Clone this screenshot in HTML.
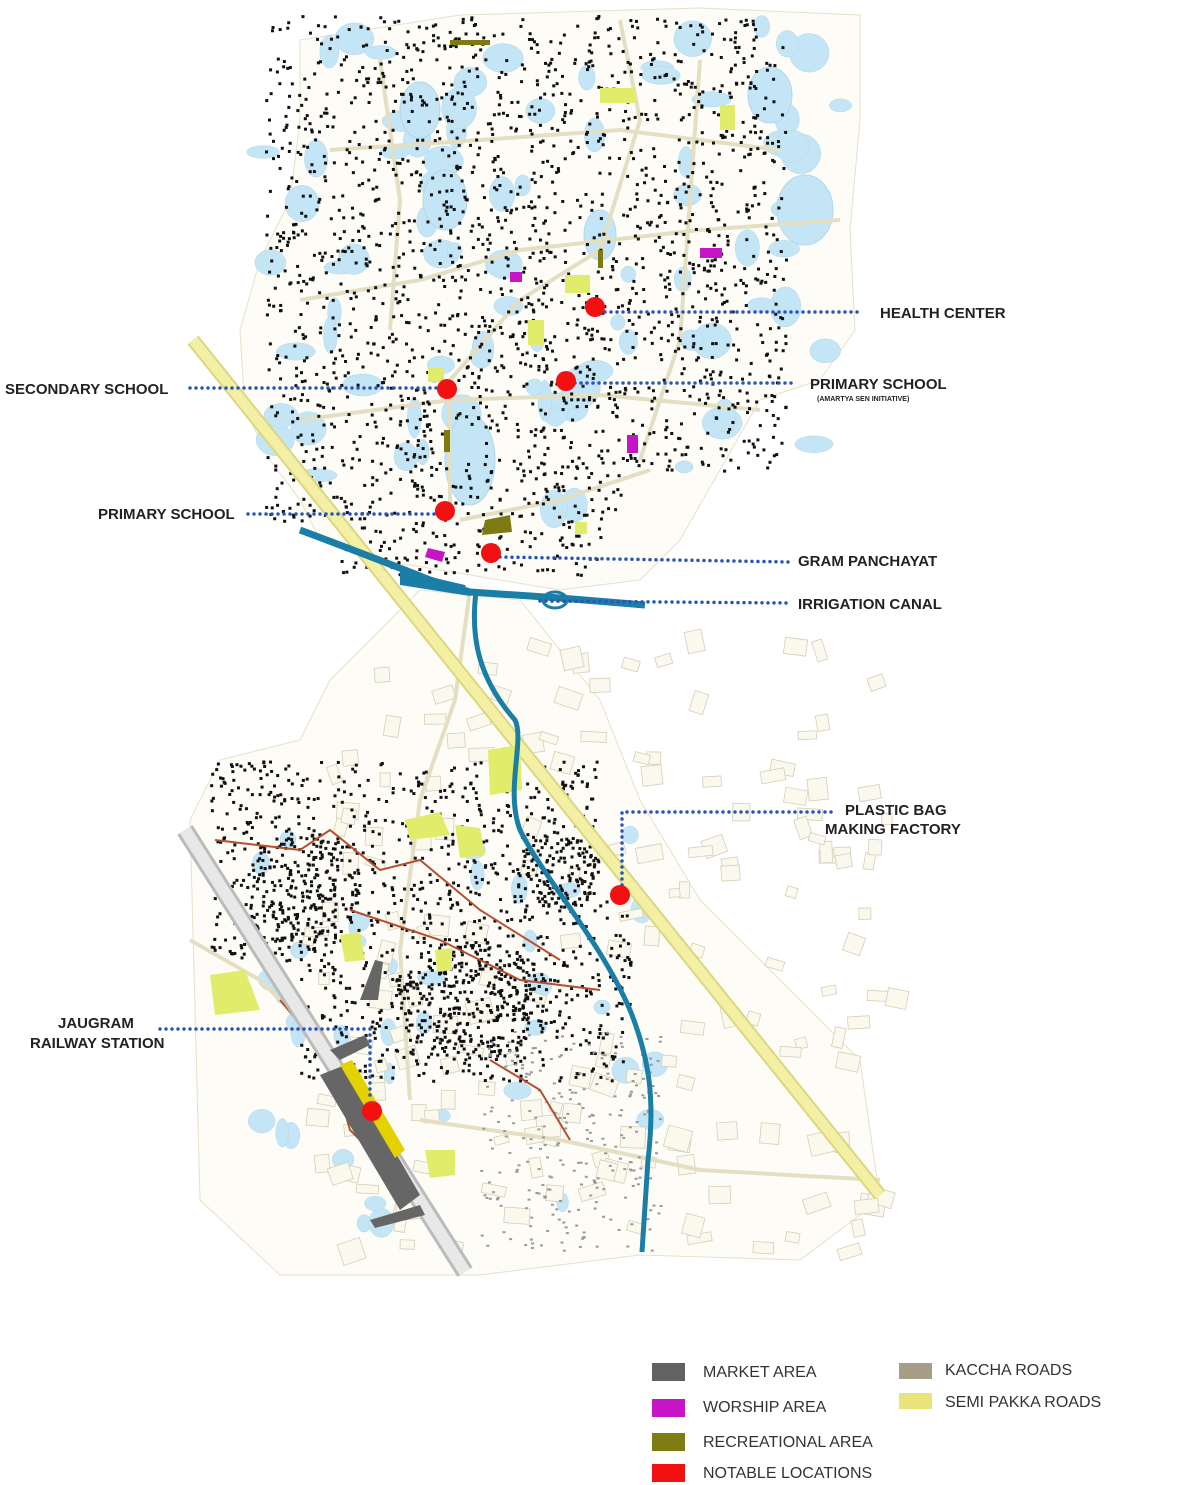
<!DOCTYPE html>
<html><head><meta charset="utf-8"><style>
html,body{margin:0;padding:0;background:#fff;}
svg{display:block}
text{font-family:"Liberation Sans",sans-serif;}
.lb{font-size:15px;font-weight:bold;fill:#222;}
.lg{font-size:16px;fill:#333;}
</style></head><body>
<svg id="s" width="1200" height="1485" viewBox="0 0 1200 1485" xmlns="http://www.w3.org/2000/svg">
<path d="M300,40 L460,15 L700,8 L860,15 L860,120 L850,230 L855,330 L820,380 L760,400 L720,470 L680,540 L640,580 L560,590 L470,575 L380,560 L320,540 L300,500 L270,460 L245,410 L240,330 L260,260 L290,200 L300,120 Z" fill="#fdfcf7" stroke="#e6e1c8"/>
<path d="M330,680 L420,590 L520,600 L600,700 L640,800 L700,900 L780,980 L860,1060 L880,1200 L800,1260 L640,1255 L480,1275 L280,1275 L200,1200 L190,820 L220,760 L300,740 Z" fill="#fdfcf7" stroke="#e6e1c8"/>
<g id="ponds"></g>
<g id="bld"></g>
<g fill="none" stroke="#e4dfc2" stroke-width="4">
<path d="M470,590 L455,700 L420,800 L400,950 L410,1100"/>
<path d="M300,420 L450,400 L600,395 L760,410"/>
<path d="M420,1120 L560,1140 L700,1170 L880,1180"/>
<path d="M450,520 L450,380 L520,300 L600,250 L640,120 L620,20"/>
<path d="M190,940 L260,980 L330,1050"/>
<path d="M300,300 L420,280 L520,250 L700,230 L840,220"/>
<path d="M330,150 L480,140 L620,130 L780,150"/>
<path d="M380,60 L400,200 L390,330"/>
<path d="M700,60 L690,200 L680,340 L640,460"/>
<path d="M460,520 L560,500 L650,470"/>
</g>
<g id="dots"></g>
<g fill="none" stroke="#b5502e" stroke-width="2">
<path d="M215,840 L300,850 L330,830 L380,870 L420,860 L480,910 L560,960"/>
<path d="M350,910 L440,940 L520,980 L600,990"/>
<path d="M490,1060 L540,1090 L570,1140"/>
<path d="M280,1000 L330,1060 L350,1130 L400,1180"/>
</g>
<path d="M185,830 L465,1272" stroke="#bbb" stroke-width="18" fill="none"/>
<path d="M185,830 L465,1272" stroke="#e8e8e8" stroke-width="12" fill="none"/>
<polygon points="320,1075 345,1065 420,1195 400,1210" fill="#666"/>
<polygon points="340,1065 352,1060 405,1150 395,1158" fill="#e3d100"/>
<polygon points="330,1050 365,1035 370,1045 340,1060" fill="#666"/>
<polygon points="360,1000 375,960 383,962 378,1000" fill="#666"/>
<polygon points="370,1220 420,1205 425,1215 375,1228" fill="#666"/>
<path d="M193,340 L880,1195" stroke="#dcd67e" stroke-width="14" fill="none"/>
<path d="M193,340 L880,1195" stroke="#f3f0a5" stroke-width="10" fill="none"/>
<g fill="#e0ec6a">
<rect x="600" y="88" width="35" height="15"/><rect x="720" y="105" width="15" height="25"/>
<rect x="565" y="275" width="25" height="18"/><rect x="528" y="320" width="16" height="25"/>
<rect x="428" y="368" width="16" height="14"/><rect x="575" y="522" width="12" height="12"/>
<polygon points="488,750 520,745 522,790 490,795"/><polygon points="405,820 440,812 450,835 410,840"/>
<polygon points="455,825 480,828 485,855 460,858"/><polygon points="340,935 360,932 365,960 345,962"/>
<polygon points="210,975 245,970 260,1010 215,1015"/><polygon points="425,1150 455,1150 455,1175 430,1178"/>
<polygon points="435,950 452,948 452,970 437,972"/>
</g>
<g fill="#7d7a12">
<polygon points="485,520 510,515 512,532 482,535"/><rect x="444" y="430" width="6" height="22"/>
<rect x="598" y="250" width="5" height="18"/><rect x="450" y="40" width="40" height="5"/>
</g>
<g fill="#c614c6">
<polygon points="428,548 445,552 442,562 425,557"/><rect x="700" y="248" width="22" height="10"/>
<rect x="627" y="435" width="11" height="18"/><rect x="510" y="272" width="12" height="10"/>
</g>
<path d="M300,530 Q380,560 430,580 L470,592 L560,598 L645,605" stroke="#1a7ea6" stroke-width="7" fill="none"/>
<path d="M400,570 L465,585 L470,596 L400,585 Z" fill="#1a7ea6"/>
<ellipse cx="555" cy="600" rx="12" ry="8" fill="none" stroke="#1a7ea6" stroke-width="3"/>
<path d="M476,592 C470,640 480,680 515,720 C525,740 505,790 520,830 C545,880 600,940 630,1010 C650,1060 655,1100 648,1160 L642,1252" stroke="#1a7ea6" stroke-width="5" fill="none"/>
<g stroke="#2a55b8" stroke-width="3.5" stroke-linecap="round" stroke-dasharray="0 6" fill="none">
<path d="M605,312 L862,312"/><path d="M575,383 L795,383"/><path d="M190,388 L437,388"/>
<path d="M248,514 L435,514"/><path d="M500,557 L790,562"/><path d="M540,601 L790,603"/>
<path d="M622,885 L622,812 L835,812"/><path d="M160,1029 L370,1029 L370,1100"/>
</g>
<g fill="#f21010">
<circle cx="595" cy="307" r="10"/><circle cx="566" cy="381" r="10"/><circle cx="447" cy="389" r="10"/>
<circle cx="445" cy="511" r="10"/><circle cx="491" cy="553" r="10"/><circle cx="620" cy="895" r="10"/>
<circle cx="372" cy="1111" r="10"/>
</g>
<text class="lb" x="880" y="318">HEALTH CENTER</text>
<text class="lb" x="810" y="389">PRIMARY SCHOOL</text>
<text x="817" y="401" style="font-size:7px;font-weight:bold;fill:#222">(AMARTYA SEN INITIATIVE)</text>
<text class="lb" x="5" y="394">SECONDARY SCHOOL</text>
<text class="lb" x="98" y="519">PRIMARY SCHOOL</text>
<text class="lb" x="798" y="566">GRAM PANCHAYAT</text>
<text class="lb" x="798" y="609">IRRIGATION CANAL</text>
<text class="lb" x="845" y="815">PLASTIC BAG</text>
<text class="lb" x="825" y="834">MAKING FACTORY</text>
<text class="lb" x="58" y="1028">JAUGRAM</text>
<text class="lb" x="30" y="1048">RAILWAY STATION</text>
<rect x="652" y="1363" width="33" height="18" fill="#626262"/>
<rect x="652" y="1399" width="33" height="18" fill="#c614c6"/>
<rect x="652" y="1433" width="33" height="18" fill="#7e7c12"/>
<rect x="652" y="1464" width="33" height="18" fill="#f21010"/>
<rect x="899" y="1363" width="33" height="16" fill="#a89d88"/>
<rect x="899" y="1393" width="33" height="16" fill="#e8e47a"/>
<text class="lg" x="703" y="1377">MARKET AREA</text>
<text class="lg" x="703" y="1412">WORSHIP AREA</text>
<text class="lg" x="703" y="1447">RECREATIONAL AREA</text>
<text class="lg" x="703" y="1478">NOTABLE LOCATIONS</text>
<text class="lg" x="945" y="1375">KACCHA ROADS</text>
<text class="lg" x="945" y="1407">SEMI PAKKA ROADS</text>
</svg>
<script>
(function(){
var s=12345;function r(){s=(s*16807)%2147483647;return s/2147483647;}
var NS="http://www.w3.org/2000/svg";
function el(g,t,a){var e=document.createElementNS(NS,t);for(var k in a)e.setAttribute(k,a[k]);document.getElementById(g).appendChild(e);}
var i;
for(i=0;i<100;i++){var x=260+r()*590,y=25+r()*540;
 if(y>480&&x>640)continue; if(y<120&&x<300)continue;
 el("ponds","ellipse",{cx:x,cy:y,rx:6+r()*15,ry:6+r()*15,fill:"#c4e5f5",stroke:"#b3d7e8","stroke-width":0.5});}
var big=[[445,200,22,30],[470,460,25,45],[805,210,28,35],[770,95,22,28],[600,235,16,25],[420,110,20,28]];
big.forEach(function(b){el("ponds","ellipse",{cx:b[0],cy:b[1],rx:b[2],ry:b[3],fill:"#c4e5f5",stroke:"#b3d7e8"});});
for(i=0;i<40;i++){var x=260+r()*400,y=820+r()*420;
 el("ponds","ellipse",{cx:x,cy:y,rx:5+r()*9,ry:5+r()*10,fill:"#c4e5f5",stroke:"#b3d7e8","stroke-width":0.5});}
for(i=0;i<180;i++){var x=300+r()*590,y=630+r()*620;
 if(x<330&&y<760)continue;
 el("bld","rect",{x:x,y:y,width:10+r()*16,height:8+r()*14,fill:"#fbf9ee",stroke:"#d3cfb8","stroke-width":0.8,transform:"rotate("+(r()*40-20)+" "+x+" "+y+")"});}
// clustered dots
function cluster(cx,cy,rx,ry,n){for(var k=0;k<n;k++){var a=r()*6.283,d=Math.sqrt(r());
 el("dots","rect",{x:cx+Math.cos(a)*d*rx,y:cy+Math.sin(a)*d*ry,width:3,height:3,fill:"#111"});}}
for(i=0;i<2200;i++){var x=265+r()*520,y=15+r()*560;
 if(y>470&&x>620)continue; if(y>520&&(x<340||x>600))continue;
 el("dots","rect",{x:x,y:y,width:3,height:3,fill:"#111"});}
for(i=0;i<1200;i++){var x=210+r()*420,y=760+r()*320;
 if(x<300&&y>960)continue; if(x>600&&y<900)continue;
 el("dots","rect",{x:x,y:y,width:3,height:3,fill:"#111"});}
cluster(300,890,60,60,200);cluster(470,1000,80,60,300);cluster(560,870,40,40,120);
for(i=0;i<250;i++){var x=480+r()*180,y=1030+r()*220;
 el("dots","rect",{x:x,y:y,width:3,height:2,fill:"#999"});}
})();
</script>
</body></html>
